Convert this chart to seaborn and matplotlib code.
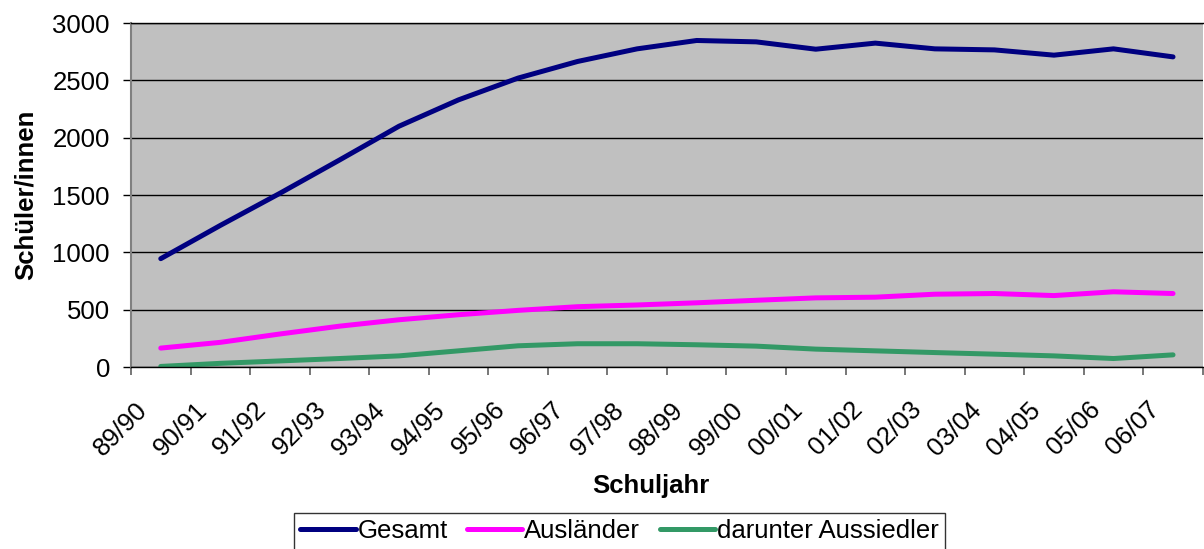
import numpy as np
import pandas as pd
import seaborn as sns
import matplotlib.pyplot as plt
from matplotlib.transforms import ScaledTranslation

# School years (categories)
school_years = ['89/90', '90/91', '91/92', '92/93', '93/94', '94/95', '95/96', '96/97', '97/98',
                '98/99', '99/00', '00/01', '01/02', '02/03', '03/04', '04/05', '05/06', '06/07']

# Values
gesamt = [945, 1235, 1515, 1805, 2100, 2330, 2520, 2665, 2775,
          2848, 2836, 2772, 2825, 2775, 2766, 2720, 2775, 2705]
auslaender = [165, 215, 288, 356, 412, 456, 494, 526, 541,
              560, 582, 603, 609, 635, 641, 623, 656, 641]
aussiedler = [5, 32, 53, 74, 97, 141, 185, 203, 203,
              194, 182, 156, 141, 126, 112, 97, 74, 106]

series_names = ['Gesamt', 'Ausländer', 'darunter Aussiedler']
series_colors = ['#000080', '#FF00FF', '#339966']

# Long-form table for seaborn
df = pd.concat([
    pd.DataFrame({'pos': range(len(school_years)), 'value': vals, 'series': name})
    for name, vals in zip(series_names, [gesamt, auslaender, aussiedler])
], ignore_index=True)

sns.set_style('ticks', rc={'axes.facecolor': '#C0C0C0'})
plt.rcParams['font.family'] = ['Liberation Sans', 'DejaVu Sans']
plt.rcParams['text.color'] = 'black'
plt.rcParams['axes.labelcolor'] = 'black'
plt.rcParams['xtick.labelcolor'] = 'black'
plt.rcParams['ytick.labelcolor'] = 'black'

fig, ax = plt.subplots(figsize=(12.04, 5.49), dpi=100)
fig.subplots_adjust(left=0.1088, right=0.999, bottom=0.3315, top=0.958)

sns.lineplot(data=df, x='pos', y='value', hue='series', hue_order=series_names,
             palette=dict(zip(series_names, series_colors)), linewidth=3.6,
             solid_capstyle='round', solid_joinstyle='round', legend=False, ax=ax)

ax.set_xlim(-0.5, len(school_years) - 0.5)
ax.set_ylim(0, 3000)
ax.set_yticks(range(0, 3001, 500))

# Grid and frame
ax.yaxis.grid(True, color='black', linewidth=1)
ax.xaxis.grid(False)
ax.set_axisbelow(True)
ax.spines['left'].set_color('#808080')
ax.spines['left'].set_linewidth(1.5)
ax.spines['bottom'].set_color('black')
ax.spines['bottom'].set_linewidth(1)
ax.spines['top'].set_visible(True)
ax.spines['top'].set_color('black')
ax.spines['top'].set_linewidth(1)
ax.spines['right'].set_visible(False)

# x ticks: labels at category centres, marks at boundaries
ax.set_xticks(range(len(school_years)))
ax.set_xticklabels(school_years, rotation=45, ha='right', va='center', rotation_mode='anchor')
ax.set_xticks(np.arange(-0.5, len(school_years), 1), minor=True)
ax.tick_params(axis='x', which='major', length=0, pad=28, labelsize=18.5, labelcolor='black')
ax.tick_params(axis='x', which='minor', length=5.8, width=1.2, color='#606060', direction='out')
ax.tick_params(axis='y', length=5.8, width=1, color='black', pad=9.4, labelsize=18.5,
               direction='out', labelcolor='black')

shift = ScaledTranslation(-17 / 100, 0, fig.dpi_scale_trans)
for lab in ax.get_xticklabels():
    lab.set_transform(lab.get_transform() + shift)

ax.set_xlabel('Schuljahr', fontsize=18.5, fontweight='bold', color='black')
ax.xaxis.set_label_coords(0.485, -0.311)
ax.set_ylabel('Schüler/innen', fontsize=18.5, fontweight='bold', color='black')
ax.yaxis.set_label_coords(-0.087, 0.5)

# Legend below the chart
leg = ax.legend(ax.lines[:3], series_names, loc='upper center',
                bbox_to_anchor=(0.5145, 0.0656), bbox_transform=fig.transFigure,
                ncol=3, frameon=True, fancybox=False, edgecolor='black', fontsize=18.5,
                handlelength=2.15, handletextpad=0.08, columnspacing=0.75,
                borderpad=0.25, borderaxespad=0)
leg.get_frame().set_linewidth(1)
leg.get_frame().set_facecolor('white')
for t in leg.get_texts():
    t.set_color('black')

fig.savefig('out.png', dpi=100)
